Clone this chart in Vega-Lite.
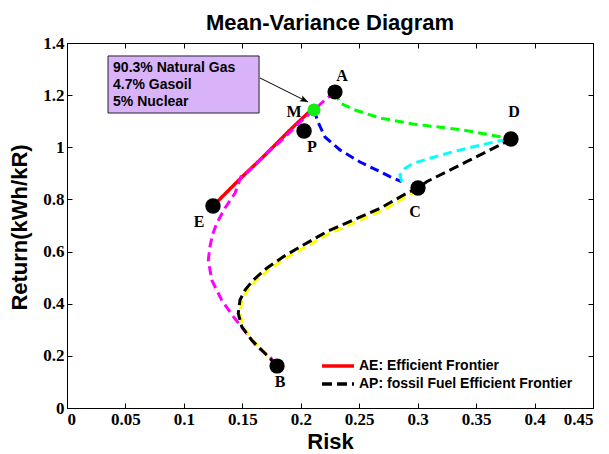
{
  "$schema": "https://vega.github.io/schema/vega-lite/v6.json",
  "width": 526,
  "height": 365,
  "autosize": {"type": "none"},
  "padding": {"left": 67, "top": 43, "right": 16, "bottom": 46},
  "background": "white",
  "title": {
    "text": "Mean-Variance Diagram",
    "font": "Liberation Sans",
    "fontSize": 22,
    "fontWeight": "bold",
    "color": "black",
    "anchor": "middle",
    "baseline": "alphabetic",
    "offset": 14,
    "dy": 32
  },
  "config": {
    "view": {"stroke": null},
    "axis": {
      "grid": false,
      "domainColor": "black",
      "domainWidth": 1,
      "tickColor": "black",
      "tickWidth": 1,
      "tickSize": -5,
      "labelColor": "black",
      "labelFont": "Liberation Serif",
      "labelFontWeight": "bold",
      "labelFontSize": 17,
      "titleColor": "black",
      "titleFont": "Liberation Sans",
      "titleFontWeight": "bold",
      "titleFontSize": 22,
      "format": "~g"
    },
    "legend": {
      "labelFont": "Liberation Sans",
      "labelFontWeight": "bold",
      "labelFontSize": 14,
      "labelColor": "black",
      "labelLimit": 400
    }
  },
  "datasets": {
    "curves": [
      {"s": "red", "lg": "AE: Efficient Frontier", "i": 1, "x": 0.1249, "y": 0.7748},
      {"s": "red", "lg": "AE: Efficient Frontier", "i": 2, "x": 0.1497, "y": 0.8861},
      {"s": "red", "lg": "AE: Efficient Frontier", "i": 3, "x": 0.1677, "y": 0.9628},
      {"s": "red", "lg": "AE: Efficient Frontier", "i": 4, "x": 0.1908, "y": 1.0664},
      {"s": "red", "lg": "AE: Efficient Frontier", "i": 5, "x": 0.2062, "y": 1.1316},
      {"s": "red", "lg": "AE: Efficient Frontier", "i": 6, "x": 0.2113, "y": 1.1431},

      {"s": "mag", "i": 1, "x": 0.2293, "y": 1.2121},
      {"s": "mag", "i": 2, "x": 0.2207, "y": 1.1815},
      {"s": "mag", "i": 3, "x": 0.2113, "y": 1.1431},
      {"s": "mag", "i": 4, "x": 0.1993, "y": 1.0970},
      {"s": "mag", "i": 5, "x": 0.1865, "y": 1.0395},
      {"s": "mag", "i": 6, "x": 0.1694, "y": 0.9705},
      {"s": "mag", "i": 7, "x": 0.1548, "y": 0.9053},
      {"s": "mag", "i": 8, "x": 0.1494, "y": 0.8937},
      {"s": "mag", "i": 9, "x": 0.1437, "y": 0.8236},
      {"s": "mag", "i": 10, "x": 0.1352, "y": 0.7672},
      {"s": "mag", "i": 11, "x": 0.1281, "y": 0.7085},
      {"s": "mag", "i": 12, "x": 0.1245, "y": 0.6650},
      {"s": "mag", "i": 13, "x": 0.1223, "y": 0.6187},
      {"s": "mag", "i": 14, "x": 0.1209, "y": 0.5677},
      {"s": "mag", "i": 15, "x": 0.1238, "y": 0.4910},
      {"s": "mag", "i": 16, "x": 0.1323, "y": 0.4143},
      {"s": "mag", "i": 17, "x": 0.1423, "y": 0.3502},
      {"s": "mag", "i": 18, "x": 0.1537, "y": 0.2865},
      {"s": "mag", "i": 19, "x": 0.1623, "y": 0.2351},
      {"s": "mag", "i": 20, "x": 0.1737, "y": 0.1956},
      {"s": "mag", "i": 21, "x": 0.1797, "y": 0.1611},

      {"s": "yel", "i": 1, "x": 0.1797, "y": 0.1611},
      {"s": "yel", "i": 2, "x": 0.1712, "y": 0.2010},
      {"s": "yel", "i": 3, "x": 0.1590, "y": 0.2590},
      {"s": "yel", "i": 4, "x": 0.1508, "y": 0.3110},
      {"s": "yel", "i": 5, "x": 0.1480, "y": 0.3630},
      {"s": "yel", "i": 6, "x": 0.1495, "y": 0.4120},
      {"s": "yel", "i": 7, "x": 0.1540, "y": 0.4490},
      {"s": "yel", "i": 8, "x": 0.1612, "y": 0.4865},
      {"s": "yel", "i": 9, "x": 0.1725, "y": 0.5300},
      {"s": "yel", "i": 10, "x": 0.1868, "y": 0.5740},
      {"s": "yel", "i": 11, "x": 0.2040, "y": 0.6180},
      {"s": "yel", "i": 12, "x": 0.2240, "y": 0.6685},
      {"s": "yel", "i": 13, "x": 0.2468, "y": 0.7130},
      {"s": "yel", "i": 14, "x": 0.2695, "y": 0.7575},
      {"s": "yel", "i": 15, "x": 0.2920, "y": 0.8150},
      {"s": "yel", "i": 16, "x": 0.3003, "y": 0.8380},

      {"s": "blk", "lg": "AP: fossil Fuel Efficient Frontier", "i": 1, "x": 0.1797, "y": 0.1611},
      {"s": "blk", "lg": "AP: fossil Fuel Efficient Frontier", "i": 2, "x": 0.1708, "y": 0.2033},
      {"s": "blk", "lg": "AP: fossil Fuel Efficient Frontier", "i": 3, "x": 0.1580, "y": 0.2608},
      {"s": "blk", "lg": "AP: fossil Fuel Efficient Frontier", "i": 4, "x": 0.1495, "y": 0.3119},
      {"s": "blk", "lg": "AP: fossil Fuel Efficient Frontier", "i": 5, "x": 0.1465, "y": 0.3633},
      {"s": "blk", "lg": "AP: fossil Fuel Efficient Frontier", "i": 6, "x": 0.1480, "y": 0.4143},
      {"s": "blk", "lg": "AP: fossil Fuel Efficient Frontier", "i": 7, "x": 0.1523, "y": 0.4526},
      {"s": "blk", "lg": "AP: fossil Fuel Efficient Frontier", "i": 8, "x": 0.1594, "y": 0.4910},
      {"s": "blk", "lg": "AP: fossil Fuel Efficient Frontier", "i": 9, "x": 0.1708, "y": 0.5359},
      {"s": "blk", "lg": "AP: fossil Fuel Efficient Frontier", "i": 10, "x": 0.1850, "y": 0.5804},
      {"s": "blk", "lg": "AP: fossil Fuel Efficient Frontier", "i": 11, "x": 0.2022, "y": 0.6252},
      {"s": "blk", "lg": "AP: fossil Fuel Efficient Frontier", "i": 12, "x": 0.2222, "y": 0.6763},
      {"s": "blk", "lg": "AP: fossil Fuel Efficient Frontier", "i": 13, "x": 0.2450, "y": 0.7211},
      {"s": "blk", "lg": "AP: fossil Fuel Efficient Frontier", "i": 14, "x": 0.2678, "y": 0.7660},
      {"s": "blk", "lg": "AP: fossil Fuel Efficient Frontier", "i": 15, "x": 0.2906, "y": 0.8236},
      {"s": "blk", "lg": "AP: fossil Fuel Efficient Frontier", "i": 16, "x": 0.3003, "y": 0.8439},
      {"s": "blk", "lg": "AP: fossil Fuel Efficient Frontier", "i": 17, "x": 0.3077, "y": 0.8681},
      {"s": "blk", "lg": "AP: fossil Fuel Efficient Frontier", "i": 18, "x": 0.3248, "y": 0.9064},
      {"s": "blk", "lg": "AP: fossil Fuel Efficient Frontier", "i": 19, "x": 0.3419, "y": 0.9448},
      {"s": "blk", "lg": "AP: fossil Fuel Efficient Frontier", "i": 20, "x": 0.3591, "y": 0.9831},
      {"s": "blk", "lg": "AP: fossil Fuel Efficient Frontier", "i": 21, "x": 0.3704, "y": 1.0088},
      {"s": "blk", "lg": "AP: fossil Fuel Efficient Frontier", "i": 22, "x": 0.3798, "y": 1.0318},

      {"s": "grn", "i": 1, "x": 0.2293, "y": 1.2121},
      {"s": "grn", "i": 2, "x": 0.2336, "y": 1.1699},
      {"s": "grn", "i": 3, "x": 0.2464, "y": 1.1431},
      {"s": "grn", "i": 4, "x": 0.2678, "y": 1.1124},
      {"s": "grn", "i": 5, "x": 0.2960, "y": 1.0894},
      {"s": "grn", "i": 6, "x": 0.3388, "y": 1.0664},
      {"s": "grn", "i": 7, "x": 0.3704, "y": 1.0407},
      {"s": "grn", "i": 8, "x": 0.3798, "y": 1.0318},

      {"s": "blu", "i": 1, "x": 0.2113, "y": 1.1431},
      {"s": "blu", "i": 2, "x": 0.2147, "y": 1.0970},
      {"s": "blu", "i": 3, "x": 0.2207, "y": 1.0395},
      {"s": "blu", "i": 4, "x": 0.2336, "y": 0.9896},
      {"s": "blu", "i": 5, "x": 0.2507, "y": 0.9436},
      {"s": "blu", "i": 6, "x": 0.2678, "y": 0.9064},
      {"s": "blu", "i": 7, "x": 0.2763, "y": 0.8872},
      {"s": "blu", "i": 8, "x": 0.2863, "y": 0.8681},

      {"s": "cyn", "i": 1, "x": 0.2863, "y": 0.8681},
      {"s": "cyn", "i": 2, "x": 0.2849, "y": 0.8937},
      {"s": "cyn", "i": 3, "x": 0.2892, "y": 0.9195},
      {"s": "cyn", "i": 4, "x": 0.2963, "y": 0.9386},
      {"s": "cyn", "i": 5, "x": 0.3105, "y": 0.9578},
      {"s": "cyn", "i": 6, "x": 0.3305, "y": 0.9831},
      {"s": "cyn", "i": 7, "x": 0.3505, "y": 1.0050},
      {"s": "cyn", "i": 8, "x": 0.3704, "y": 1.0253},
      {"s": "cyn", "i": 9, "x": 0.3798, "y": 1.0318}
    ],
    "points": [
      {"n": "A", "x": 0.2293, "y": 1.2121},
      {"n": "M", "x": 0.2113, "y": 1.1431},
      {"n": "P", "x": 0.2028, "y": 1.0625},
      {"n": "D", "x": 0.3798, "y": 1.0318},
      {"n": "C", "x": 0.3003, "y": 0.8439},
      {"n": "E", "x": 0.1249, "y": 0.7748},
      {"n": "B", "x": 0.1797, "y": 0.1611}
    ],
    "labels": [
      {"n": "A", "x": 0.2353, "y": 1.2735},
      {"n": "D", "x": 0.3824, "y": 1.1354},
      {"n": "C", "x": 0.2977, "y": 0.7518},
      {"n": "E", "x": 0.1129, "y": 0.7134},
      {"n": "M", "x": 0.1942, "y": 1.1354},
      {"n": "P", "x": 0.2096, "y": 1.0012},
      {"n": "B", "x": 0.1822, "y": 0.0997}
    ],
    "box": [{"x": 0.0351, "x2": 0.1643, "y": 1.3502, "y2": 1.1315}],
    "boxtext": [
      {"t": "90.3% Natural Gas", "x": 0.0394, "y": 1.3042},
      {"t": "4.7% Gasoil", "x": 0.0394, "y": 1.2390},
      {"t": "5% Nuclear", "x": 0.0394, "y": 1.1738}
    ],
    "arrow": [{"x": 0.1651, "y": 1.2659, "x2": 0.2062, "y2": 1.1738}]
  },
  "layer": [
    {
      "data": {"name": "curves"},
      "transform": [{"filter": "datum.s === 'red'"}],
      "mark": {"type": "line", "strokeWidth": 3.5},
      "encoding": {
        "x": {"field": "x", "type": "quantitative", "scale": {"domain": [0, 0.45], "nice": false, "zero": false},
          "axis": {"orient": "bottom", "values": [0, 0.05, 0.1, 0.15, 0.2, 0.25, 0.3, 0.35, 0.4, 0.45], "title": "Risk", "labelPadding": 8, "titleBaseline": "alphabetic", "titleY": 40}},
        "y": {"field": "y", "type": "quantitative", "scale": {"domain": [0, 1.4], "nice": false, "zero": false},
          "axis": {"orient": "left", "values": [0, 0.2, 0.4, 0.6, 0.8, 1, 1.2, 1.4], "title": "Return(kWh/kR)", "labelPadding": 8, "titleBaseline": "alphabetic", "titleX": -41, "titleY": 184, "titleAlign": "center", "titleAngle": 270}},
        "order": {"field": "i", "type": "quantitative"},
        "color": {"field": "lg", "type": "nominal", "title": null,
          "scale": {"domain": ["AE: Efficient Frontier", "AP: fossil Fuel Efficient Frontier"], "range": ["#FF0000", "#000000"]},
          "legend": {"orient": "none", "legendX": 253, "legendY": 314, "title": null, "symbolType": "stroke", "symbolSize": 1024, "symbolStrokeWidth": 3.5, "clipHeight": 18, "labelOffset": 3, "padding": 0, "rowPadding": 0, "labelLimit": 400}},
        "strokeDash": {"field": "lg", "type": "nominal", "title": null,
          "scale": {"domain": ["AE: Efficient Frontier", "AP: fossil Fuel Efficient Frontier"], "range": [[1, 0], [10, 5]]},
          "legend": {"orient": "none", "legendX": 253, "legendY": 314, "title": null, "symbolType": "stroke", "symbolSize": 1024, "symbolStrokeWidth": 3.5, "clipHeight": 18, "labelOffset": 3, "padding": 0, "rowPadding": 0, "labelLimit": 400}}
      }
    },
    {
      "data": {"name": "curves"},
      "transform": [{"filter": "datum.s === 'mag'"}],
      "mark": {"type": "line", "strokeWidth": 3, "color": "#FF00FF", "strokeDash": [9, 5]},
      "encoding": {
        "x": {"field": "x", "type": "quantitative", "scale": {"domain": [0, 0.45], "nice": false, "zero": false}, "axis": null},
        "y": {"field": "y", "type": "quantitative", "scale": {"domain": [0, 1.4], "nice": false, "zero": false}, "axis": null},
        "order": {"field": "i", "type": "quantitative"}
      }
    },
    {
      "data": {"name": "curves"},
      "transform": [{"filter": "datum.s === 'yel'"}],
      "mark": {"type": "line", "strokeWidth": 3, "color": "#FFFF00", "strokeDash": [9, 5]},
      "encoding": {
        "x": {"field": "x", "type": "quantitative", "scale": {"domain": [0, 0.45], "nice": false, "zero": false}, "axis": null},
        "y": {"field": "y", "type": "quantitative", "scale": {"domain": [0, 1.4], "nice": false, "zero": false}, "axis": null},
        "order": {"field": "i", "type": "quantitative"}
      }
    },
    {
      "data": {"name": "curves"},
      "transform": [{"filter": "datum.s === 'blk'"}],
      "mark": {"type": "line", "strokeWidth": 3},
      "encoding": {
        "x": {"field": "x", "type": "quantitative", "scale": {"domain": [0, 0.45], "nice": false, "zero": false}, "axis": null},
        "y": {"field": "y", "type": "quantitative", "scale": {"domain": [0, 1.4], "nice": false, "zero": false}, "axis": null},
        "order": {"field": "i", "type": "quantitative"},
        "color": {"field": "lg", "type": "nominal", "title": null,
          "scale": {"domain": ["AE: Efficient Frontier", "AP: fossil Fuel Efficient Frontier"], "range": ["#FF0000", "#000000"]},
          "legend": {"orient": "none", "legendX": 253, "legendY": 314, "title": null, "symbolType": "stroke", "symbolSize": 1024, "symbolStrokeWidth": 3.5, "clipHeight": 18, "labelOffset": 3, "padding": 0, "rowPadding": 0, "labelLimit": 400}},
        "strokeDash": {"field": "lg", "type": "nominal", "title": null,
          "scale": {"domain": ["AE: Efficient Frontier", "AP: fossil Fuel Efficient Frontier"], "range": [[1, 0], [10, 5]]},
          "legend": {"orient": "none", "legendX": 253, "legendY": 314, "title": null, "symbolType": "stroke", "symbolSize": 1024, "symbolStrokeWidth": 3.5, "clipHeight": 18, "labelOffset": 3, "padding": 0, "rowPadding": 0, "labelLimit": 400}}
      }
    },
    {
      "data": {"name": "curves"},
      "transform": [{"filter": "datum.s === 'grn'"}],
      "mark": {"type": "line", "strokeWidth": 3, "color": "#00FF00", "strokeDash": [9, 5]},
      "encoding": {
        "x": {"field": "x", "type": "quantitative", "scale": {"domain": [0, 0.45], "nice": false, "zero": false}, "axis": null},
        "y": {"field": "y", "type": "quantitative", "scale": {"domain": [0, 1.4], "nice": false, "zero": false}, "axis": null},
        "order": {"field": "i", "type": "quantitative"}
      }
    },
    {
      "data": {"name": "curves"},
      "transform": [{"filter": "datum.s === 'blu'"}],
      "mark": {"type": "line", "strokeWidth": 3, "color": "#0000FF", "strokeDash": [9, 5]},
      "encoding": {
        "x": {"field": "x", "type": "quantitative", "scale": {"domain": [0, 0.45], "nice": false, "zero": false}, "axis": null},
        "y": {"field": "y", "type": "quantitative", "scale": {"domain": [0, 1.4], "nice": false, "zero": false}, "axis": null},
        "order": {"field": "i", "type": "quantitative"}
      }
    },
    {
      "data": {"name": "curves"},
      "transform": [{"filter": "datum.s === 'cyn'"}],
      "mark": {"type": "line", "strokeWidth": 3, "color": "#00FFFF", "strokeDash": [9, 5]},
      "encoding": {
        "x": {"field": "x", "type": "quantitative", "scale": {"domain": [0, 0.45], "nice": false, "zero": false}, "axis": null},
        "y": {"field": "y", "type": "quantitative", "scale": {"domain": [0, 1.4], "nice": false, "zero": false}, "axis": null},
        "order": {"field": "i", "type": "quantitative"}
      }
    },
    {
      "data": {"name": "points"},
      "transform": [{"filter": "datum.n !== 'M'"}],
      "mark": {"type": "point", "filled": true, "shape": "circle", "color": "black", "opacity": 1},
      "encoding": {
        "x": {"field": "x", "type": "quantitative", "scale": {"domain": [0, 0.45], "nice": false, "zero": false},
          "axis": {"orient": "top", "values": [0, 0.05, 0.1, 0.15, 0.2, 0.25, 0.3, 0.35, 0.4, 0.45], "labels": false, "title": null}},
        "y": {"field": "y", "type": "quantitative", "scale": {"domain": [0, 1.4], "nice": false, "zero": false},
          "axis": {"orient": "right", "values": [0, 0.2, 0.4, 0.6, 0.8, 1, 1.2, 1.4], "labels": false, "title": null}},
        "size": {"field": "n", "type": "nominal", "legend": null,
          "scale": {"domain": ["A", "B", "C", "D", "E", "P"], "range": [230, 240, 230, 230, 140, 120]}}
      }
    },
    {
      "data": {"name": "points"},
      "transform": [{"filter": "datum.n === 'M'"}],
      "mark": {"type": "point", "filled": true, "shape": "circle", "color": "#11EE11", "opacity": 1, "size": 170},
      "encoding": {
        "x": {"field": "x", "type": "quantitative", "scale": {"domain": [0, 0.45], "nice": false, "zero": false}, "axis": null},
        "y": {"field": "y", "type": "quantitative", "scale": {"domain": [0, 1.4], "nice": false, "zero": false}, "axis": null}
      }
    },
    {
      "data": {"name": "labels"},
      "mark": {"type": "text", "font": "Liberation Serif", "fontWeight": "bold", "fontSize": 16, "color": "black", "align": "center", "baseline": "middle"},
      "encoding": {
        "x": {"field": "x", "type": "quantitative", "scale": {"domain": [0, 0.45], "nice": false, "zero": false}, "axis": null},
        "y": {"field": "y", "type": "quantitative", "scale": {"domain": [0, 1.4], "nice": false, "zero": false}, "axis": null},
        "text": {"field": "n"}
      }
    },
    {
      "data": {"name": "box"},
      "mark": {"type": "rect", "fill": "#D9B3FA", "stroke": "#222222", "strokeWidth": 1},
      "encoding": {
        "x": {"field": "x", "type": "quantitative", "scale": {"domain": [0, 0.45], "nice": false, "zero": false}, "axis": null},
        "x2": {"field": "x2"},
        "y": {"field": "y", "type": "quantitative", "scale": {"domain": [0, 1.4], "nice": false, "zero": false}, "axis": null},
        "y2": {"field": "y2"}
      }
    },
    {
      "data": {"name": "boxtext"},
      "mark": {"type": "text", "font": "Liberation Sans", "fontWeight": "bold", "fontSize": 14, "color": "black", "align": "left", "baseline": "middle"},
      "encoding": {
        "x": {"field": "x", "type": "quantitative", "scale": {"domain": [0, 0.45], "nice": false, "zero": false}, "axis": null},
        "y": {"field": "y", "type": "quantitative", "scale": {"domain": [0, 1.4], "nice": false, "zero": false}, "axis": null},
        "text": {"field": "t"}
      }
    },
    {
      "data": {"name": "arrow"},
      "mark": {"type": "rule", "color": "black", "strokeWidth": 1},
      "encoding": {
        "x": {"field": "x", "type": "quantitative", "scale": {"domain": [0, 0.45], "nice": false, "zero": false}, "axis": null},
        "x2": {"field": "x2"},
        "y": {"field": "y", "type": "quantitative", "scale": {"domain": [0, 1.4], "nice": false, "zero": false}, "axis": null},
        "y2": {"field": "y2"}
      }
    },
    {
      "data": {"name": "arrow"},
      "mark": {"type": "point", "filled": true, "color": "black", "opacity": 1, "size": 256, "angle": 26.57, "shape": "M0,0L-1,-0.4L-0.8,0L-1,0.4Z"},
      "encoding": {
        "x": {"field": "x2", "type": "quantitative", "scale": {"domain": [0, 0.45], "nice": false, "zero": false}, "axis": null},
        "y": {"field": "y2", "type": "quantitative", "scale": {"domain": [0, 1.4], "nice": false, "zero": false}, "axis": null}
      }
    }
  ],
  "resolve": {"axis": {"x": "independent", "y": "independent"}}
}
